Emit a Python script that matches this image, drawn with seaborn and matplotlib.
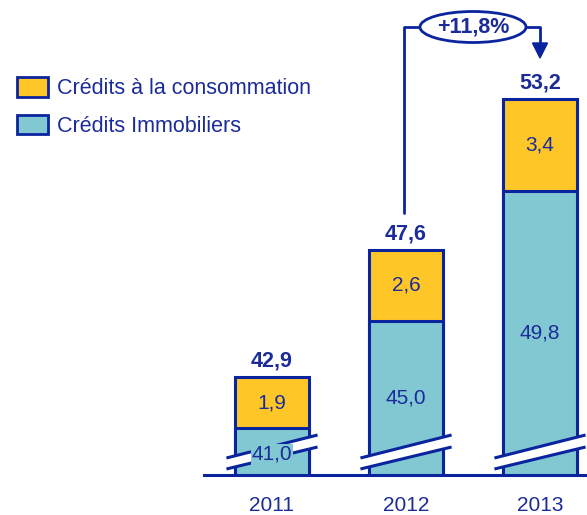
import matplotlib
matplotlib.use("Agg")
import matplotlib.pyplot as plt
import seaborn as sns
import pandas as pd
from matplotlib.patches import Patch, Polygon, Ellipse

years = ["2011", "2012", "2013"]
immobilier = [41.0, 45.0, 49.8]
consommation = [1.9, 2.6, 3.4]
totals = [42.9, 47.6, 53.2]
growth_label = "+11,8%"
series_names = ["Crédits à la consommation", "Crédits Immobiliers"]

def fr(v):
    return f"{v:.1f}".replace(".", ",")

YELLOW = "#FFC628"
CYAN = "#82C8D2"
NAVY = "#0A249E"
TXT = "#1B2C9A"

sns.set_theme(style="white")
plt.rcParams["font.family"] = ["Liberation Sans", "DejaVu Sans"]

W, H = 587, 515
fig = plt.figure(figsize=(W / 100, H / 100), dpi=100)
base_px = 475
ax = fig.add_axes([204 / W, (H - base_px) / H, (W - 204) / W, base_px / H])

df = pd.DataFrame({"year": years, "immo": immobilier, "conso": consommation,
                   "total": [i + c for i, c in zip(immobilier, consommation)]})
bw = 74 / 134
sns.barplot(data=df, x="year", y="total", color=YELLOW, edgecolor=NAVY,
            linewidth=2.2, width=bw, saturation=1, ax=ax)
sns.barplot(data=df, x="year", y="immo", color=CYAN, edgecolor=NAVY,
            linewidth=2.2, width=bw, saturation=1, ax=ax)

ppu = 26.96
v0 = 39.27
ax.set_ylim(v0, v0 + base_px / ppu)
ax.set_xlim((204 - 272) / 134, (587 - 272) / 134)

for s in ["top", "right", "left"]:
    ax.spines[s].set_visible(False)
ax.spines["bottom"].set_color(NAVY)
ax.spines["bottom"].set_linewidth(2.2)
ax.set_yticks([])
ax.set_xlabel("")
ax.set_ylabel("")
ax.tick_params(axis="x", length=0, pad=15, labelsize=15, labelcolor=TXT)

# break marks
def u(px):
    return px / ppu
for i in range(len(years)):
    xl, xr = i - 0.34, i + 0.34
    up_l, up_r = v0 + u(17), v0 + u(40)
    lo_l, lo_r = v0 + u(6), v0 + u(28)
    ax.add_patch(Polygon([[xl, up_l], [xr, up_r], [xr, lo_r], [xl, lo_l]],
                         closed=True, facecolor="white", edgecolor="none", zorder=5))
    ax.plot([xl, xr], [up_l, up_r], color=NAVY, lw=2.2, zorder=6, solid_capstyle="butt")
    ax.plot([xl, xr], [lo_l, lo_r], color=NAVY, lw=2.2, zorder=6, solid_capstyle="butt")

# segment labels
for i in range(len(years)):
    ymid = (v0 + immobilier[i]) / 2
    kw = dict(ha="center", va="center", fontsize=15, color=TXT, zorder=8)
    if immobilier[i] - v0 < 3:
        ax.text(i, ymid - 0.1, fr(immobilier[i]),
                bbox=dict(facecolor=CYAN, edgecolor="none", pad=0.5), **kw)
    else:
        ax.text(i, ymid, fr(immobilier[i]), **kw)
    ax.text(i, immobilier[i] + consommation[i] / 2, fr(consommation[i]), **kw)
    ax.annotate(fr(totals[i]), (i, totals[i]), xytext=(0, 8), textcoords="offset points",
                ha="center", va="baseline", fontsize=15.5, fontweight="bold", color=TXT)

# growth arrow
y_line = v0 + (base_px - 27) / ppu
y_start = v0 + (base_px - 213) / ppu
y_tip = v0 + (base_px - 58) / ppu
xs = 1 - 0.015
ax.plot([xs, xs, 1.5], [y_start, y_line, y_line], color=NAVY, lw=2, zorder=4, clip_on=False)
ax.plot([1.5, 2.0, 2.0], [y_line, y_line, y_tip + u(14)], color=NAVY, lw=2, zorder=4, clip_on=False)
hw = 7.5 / 134
ax.add_patch(Polygon([[2.0 - hw, y_tip + u(15)], [2.0 + hw, y_tip + u(15)], [2.0, y_tip]],
                     closed=True, facecolor=NAVY, edgecolor=NAVY, zorder=5, clip_on=False))
ax.add_patch(Ellipse((1.5, y_line), 106 / 134, u(31), facecolor="white", edgecolor=NAVY,
                     lw=2, zorder=6, clip_on=False))
ax.text(1.5, y_line, growth_label, ha="center", va="center", fontsize=15.5,
        fontweight="bold", color=TXT, zorder=7)

# legend
handles = [Patch(facecolor=YELLOW, edgecolor=NAVY, lw=2),
           Patch(facecolor=CYAN, edgecolor=NAVY, lw=2)]
fig.legend(handles, series_names, loc="upper left", bbox_to_anchor=(11 / W, 1 - 71 / H),
           frameon=False, fontsize=15.5, labelcolor=TXT, handlelength=1.4, handleheight=1.0,
           handletextpad=0.45, labelspacing=0.7, borderaxespad=0, borderpad=0.3)

fig.savefig("out.png", dpi=100)
